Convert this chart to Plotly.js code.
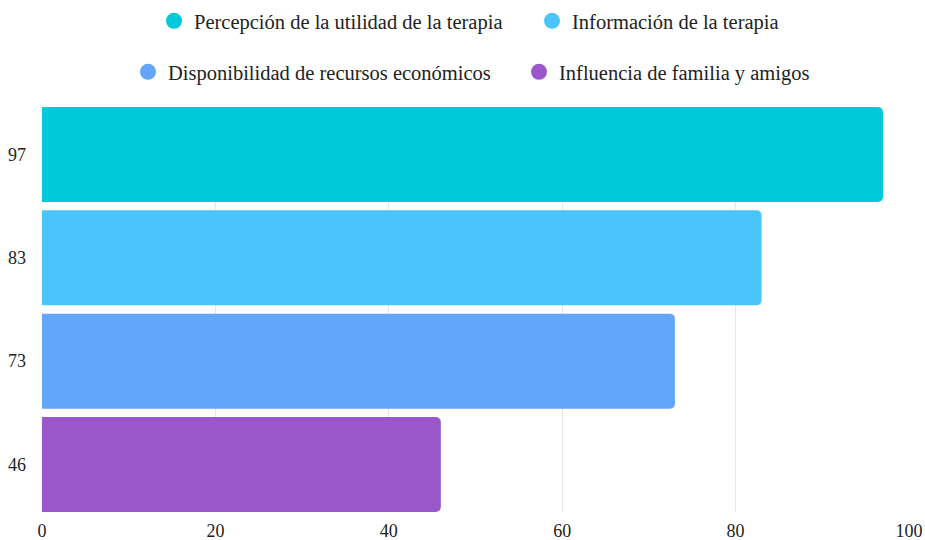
<!DOCTYPE html>
<html><head><meta charset="utf-8">
<script src="https://cdn.plot.ly/plotly-3.0.1.min.js"></script>
<style>html,body{margin:0;padding:0;background:#fff}</style>
</head><body>
<div id="chart" style="width:925px;height:540px"></div>
<script>
const categories = ["Percepción de la utilidad de la terapia", "Información de la terapia", "Disponibilidad de recursos económicos", "Influencia de familia y amigos"];
const values = [97, 83, 73, 46];
const yLabels = ["97", "83", "73", "46"];
const colors = ["#00C9DB", "#4BC4FC", "#63A5F8", "#9A57CA"];
const xTicks = [0, 20, 40, 60, 80, 100];
const legendIds = ["legend", "legend2", "legend3", "legend4"];

const font = "Liberation Serif";
const traces = [];
categories.forEach((name, i) => {
  traces.push({
    type: "bar", orientation: "h",
    x: [values[i]], y: [yLabels[i]],
    marker: {color: colors[i]},
    name: name, showlegend: false, hoverinfo: "x+name"
  });
});
categories.forEach((name, i) => {
  traces.push({
    type: "scatter", mode: "markers",
    x: [null], y: [null],
    marker: {color: colors[i], size: 21, symbol: "circle"},
    name: name, showlegend: true, legend: legendIds[i]
  });
});

const legendFont = {family: font, size: 20.5, color: "#222"};
const tickFont = {family: font, size: 18, color: "#222"};
function leg(xpx, ypx) {
  return {orientation: "h", xref: "container", yref: "container",
    x: xpx / 925, xanchor: "left", y: 1 - ypx / 540, yanchor: "middle",
    font: legendFont, itemwidth: 30, bgcolor: "rgba(0,0,0,0)"};
}
const layout = {
  width: 925, height: 540,
  margin: {l: 42, r: 16, t: 107, b: 28, autoexpand: false},
  paper_bgcolor: "#fff", plot_bgcolor: "#fff",
  font: {family: font, size: 18, color: "#222"},
  barmode: "overlay",
  bargap: 0.08,
  barcornerradius: 5,
  xaxis: {
    range: [0, 100], tickvals: xTicks, ticktext: xTicks.map(String),
    showgrid: true, gridcolor: "#e6e6e6", gridwidth: 1,
    zeroline: false, showline: false, fixedrange: true,
    ticklabelstandoff: 6,
    tickfont: tickFont
  },
  yaxis: {
    type: "category", categoryorder: "array", categoryarray: yLabels.slice().reverse(),
    range: [-0.46, 3.46], showgrid: false, zeroline: false, showline: false,
    ticklabelstandoff: 15,
    tickfont: tickFont
  },
  legend: leg(154, 21),
  legend2: leg(532, 21),
  legend3: leg(128, 72),
  legend4: leg(519, 72),
  showlegend: true
};
Plotly.newPlot("chart", traces, layout, {displayModeBar: false, staticPlot: true});
</script>
</body></html>
